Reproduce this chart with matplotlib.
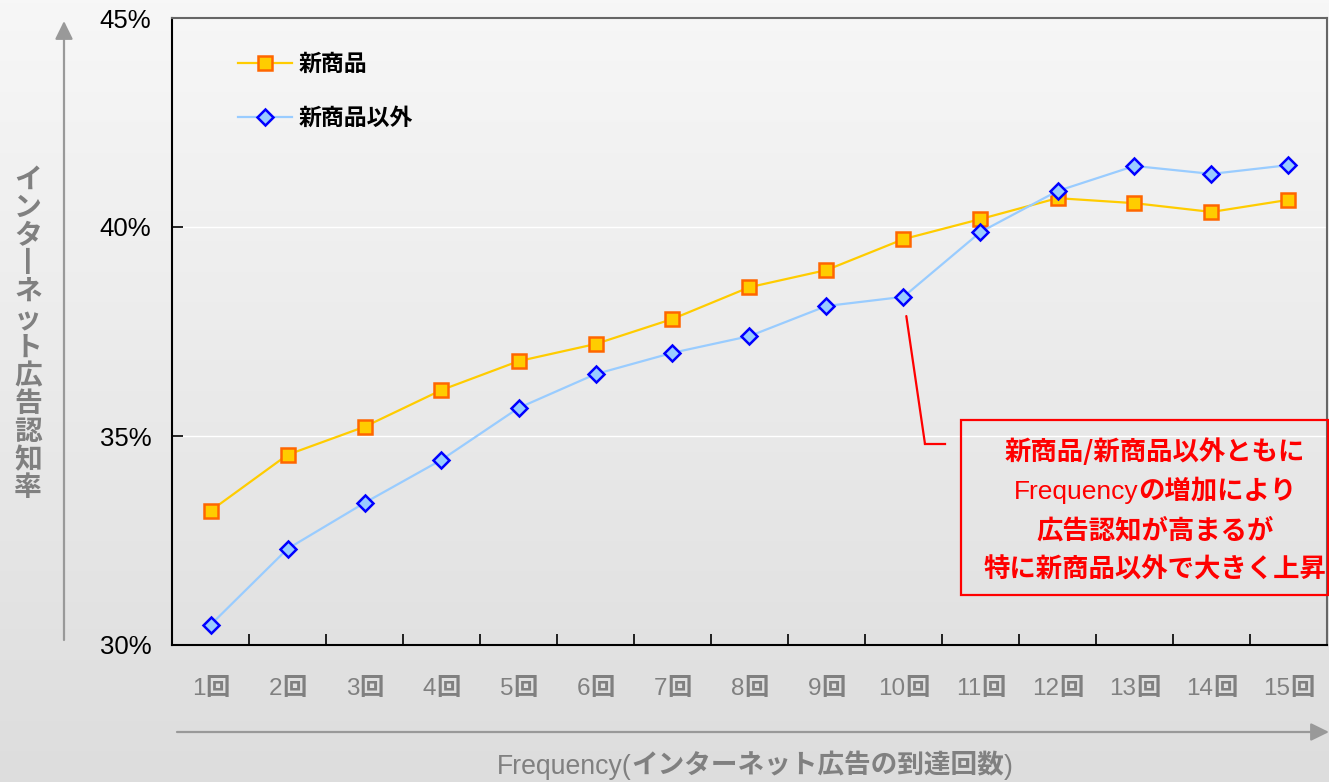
import numpy as np
import matplotlib
matplotlib.use("Agg")
import matplotlib.pyplot as plt
from matplotlib.colors import LinearSegmentedColormap
from matplotlib.lines import Line2D
from matplotlib.patches import FancyArrowPatch, Rectangle
from matplotlib.offsetbox import TextArea, HPacker, AnnotationBbox

plt.rcParams["font.family"] = ["Liberation Sans", "Noto Sans CJK JP"]

# 到達回数ごとの広告認知率 (%)
x_labels = ["1回", "2回", "3回", "4回", "5回", "6回", "7回", "8回",
            "9回", "10回", "11回", "12回", "13回", "14回", "15回"]
series_names = ["新商品", "新商品以外"]
new_items = [33.21, 34.55, 35.22, 36.10, 36.79, 37.20, 37.80, 38.56,
             38.97, 39.71, 40.19, 40.69, 40.57, 40.36, 40.65]
other_items = [30.48, 32.30, 33.40, 34.43, 35.67, 36.48, 36.99, 37.39,
               38.11, 38.33, 39.88, 40.86, 41.46, 41.27, 41.48]
y_ticks = [30, 35, 40, 45]
y_title = "インターネット広告認知率"
x_title = ["Frequency(", "インターネット広告の到達回数", ")"]
note_lines = [
    ["新商品/新商品以外ともに"],
    ["Frequency", "の増加により"],
    ["広告認知が高まるが"],
    ["特に新商品以外で大きく上昇"],
]

W, H = 1329, 782
GREY = "#808080"
LATIN = "Liberation Sans"
CJK = "Noto Sans CJK JP"


def fx(px):
    return px / W


def fy(py):
    return 1 - py / H


def mixed_box(parts, size, color):
    # 英数字は標準、和文は太字で並べる
    areas = []
    for part in parts:
        is_latin = all(ord(c) < 128 for c in part)
        props = dict(fontsize=size, color=color,
                     family=LATIN if is_latin else CJK,
                     weight="normal" if is_latin else "bold")
        areas.append(TextArea(part, textprops=props))
    return HPacker(children=areas, pad=0, sep=0, align="baseline")


fig = plt.figure(figsize=(W / 100, H / 100), dpi=100)

# 背景のグラデーション
bg = fig.add_axes([0, 0, 1, 1], zorder=-10)
bg_cmap = LinearSegmentedColormap.from_list("bg", ["#f7f7f7", "#dddddd"])
bg.imshow(np.linspace(0, 1, 256)[:, None], aspect="auto", cmap=bg_cmap,
          extent=[0, 1, 0, 1], origin="upper")
bg.axis("off")

ax = fig.add_axes([fx(172), fy(645), fx(1327 - 172), (645 - 18) / H])
ax.set_facecolor("none")
x = np.arange(len(x_labels))

ax.plot(x, new_items, color="#ffcc00", lw=1.6, marker="s", ms=10,
        mfc="#ffcc00", mec="#ff6600", mew=1.8, label=series_names[0], zorder=3)
ax.plot(x, other_items, color="#99ccff", lw=1.6, marker="D", ms=8.5,
        mfc="#99ccff", mec="#0000ff", mew=1.8, label=series_names[1], zorder=4)

ax.set_xlim(-0.5, len(x_labels) - 0.5)
ax.set_ylim(y_ticks[0], y_ticks[-1])
ax.set_yticks(y_ticks)
ax.set_yticklabels([f"{v}%" for v in y_ticks])
ax.set_xticks(x[:-1] + 0.5)
ax.set_xticklabels([])
ax.tick_params(axis="y", direction="in", length=8, width=1.2, labelsize=18.5, pad=15)
ax.tick_params(axis="x", direction="in", length=8, width=1.2)
ax.set_axisbelow(True)
ax.yaxis.grid(True, color="white", lw=1)

for side in ["left", "bottom"]:
    ax.spines[side].set_color("black")
    ax.spines[side].set_linewidth(1.5)
for side in ["top", "right"]:
    ax.spines[side].set_color("#666666")
    ax.spines[side].set_linewidth(1.5)

# 目盛りラベル (数字 + 回)
for i, label in enumerate(x_labels):
    box = mixed_box([label[:-1], label[-1]], 17.5, GREY)
    ax.add_artist(AnnotationBbox(box, (i, 0), xycoords=("data", "axes fraction"),
                                 xybox=(0, -31), boxcoords="offset points",
                                 frameon=False, box_alignment=(0.5, 0.5),
                                 annotation_clip=False))

ax.legend(loc="upper left", bbox_to_anchor=(0.057, 0.944), frameon=False,
          prop=dict(family=CJK, weight="bold", size=16.5),
          handlelength=2.35, handletextpad=0.3, labelspacing=1.33,
          borderpad=0, borderaxespad=0)

# 縦軸タイトルと矢印 (縦書きの長音は縦棒で)
fig.text(fx(28), fy(334), "\n".join(y_title.replace("ー", "丨")),
         ha="center", va="center", fontsize=20, fontweight="bold",
         color=GREY, family=CJK, linespacing=1.0)
arrow_style = "-|>,head_length=11,head_width=5.4"
fig.add_artist(FancyArrowPatch((fx(64), fy(640)), (fx(64), fy(21)),
                               transform=fig.transFigure, arrowstyle=arrow_style,
                               color="#999999", lw=1.6, shrinkA=0, shrinkB=0))
fig.add_artist(FancyArrowPatch((fx(177), fy(732)), (fx(1329), fy(732)),
                               transform=fig.transFigure, arrowstyle=arrow_style,
                               color="#999999", lw=1.6, shrinkA=0, shrinkB=0))

# 横軸タイトル
fig.add_artist(AnnotationBbox(mixed_box(x_title, 19.2, GREY), (fx(755), fy(766)),
                              xycoords="figure fraction", frameon=False,
                              box_alignment=(0.5, 0.5)))

# 注記ボックス
fig.add_artist(Rectangle((fx(961), fy(595)), fx(1328 - 961), (595 - 420) / H,
                         transform=fig.transFigure, fill=False,
                         edgecolor="red", lw=1.6))
for i, parts in enumerate(note_lines):
    fig.add_artist(AnnotationBbox(mixed_box(parts, 19, "red"),
                                  (fx(1155), fy(452 + 39.3 * i)),
                                  xycoords="figure fraction", frameon=False,
                                  box_alignment=(0.5, 0.5)))

ax.annotate("", xy=(9, other_items[9]), xytext=(fx(925), fy(444)),
            textcoords="figure fraction",
            arrowprops=dict(arrowstyle="-", color="red", lw=1.6,
                            shrinkA=0, shrinkB=14))
fig.add_artist(Line2D([fx(925), fx(945)], [fy(444), fy(444)],
                      transform=fig.transFigure, color="red", lw=1.6))

fig.savefig("out.png", dpi=100)
